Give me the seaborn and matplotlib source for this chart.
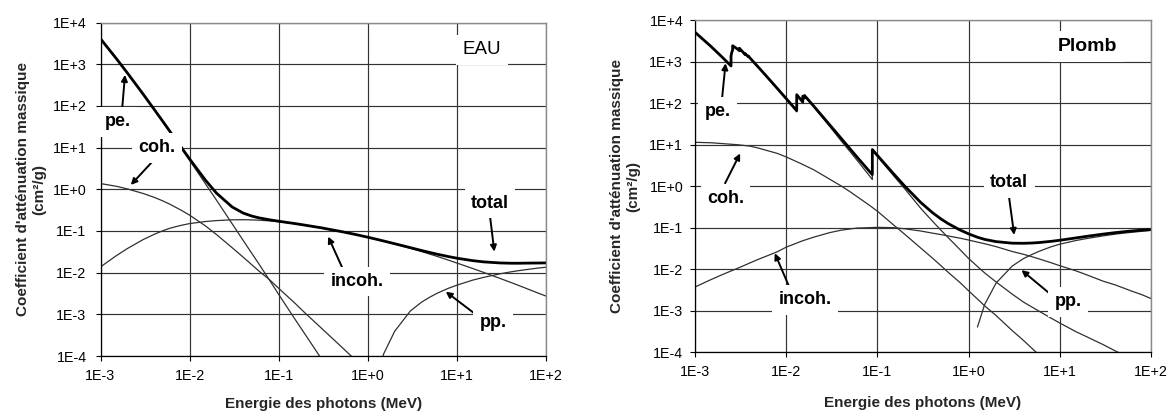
import numpy as np
import pandas as pd
import matplotlib
matplotlib.use("Agg")
import matplotlib.pyplot as plt
import seaborn as sns
from matplotlib.ticker import NullLocator

nan = np.nan

# ---------------- data (MeV, cm2/g) ----------------
energy = [1e-3, 1.5e-3, 2e-3, 3e-3, 4e-3, 5e-3, 6e-3, 8e-3,
          1e-2, 1.5e-2, 2e-2, 3e-2, 4e-2, 5e-2, 6e-2, 8e-2,
          0.1, 0.15, 0.2, 0.3, 0.4, 0.5, 0.6, 0.8,
          1, 1.25, 1.5, 2, 3, 4, 5, 6, 8,
          10, 15, 20, 30, 40, 50, 60, 80, 100]

water_coh = [1.37, 1.18, 1.02, 0.794, 0.640, 0.526, 0.438, 0.316,
             0.239, 0.133, 0.0821, 0.0397, 0.0234, 0.0154, 0.0109, 0.0066,
             0.0042, 0.0019, 0.00105, 0.00047, 0.000265, 0.00017, 0.000118, 6.6e-5,
             nan, nan, nan, nan, nan, nan, nan, nan, nan,
             nan, nan, nan, nan, nan, nan, nan, nan, nan]
water_incoh = [0.0137, 0.0254, 0.0377, 0.0618, 0.0828, 0.101, 0.116, 0.136,
               0.150, 0.168, 0.177, 0.185, 0.186, 0.184, 0.181, 0.174,
               0.166, 0.149, 0.136, 0.118, 0.106, 0.0967, 0.0894, 0.0786,
               0.0707, 0.0632, 0.0574, 0.0489, 0.0385, 0.0321, 0.0277, 0.0245, 0.0200,
               0.0170, 0.0126, 0.0101, 0.00735, 0.00585, 0.00487, 0.00418, 0.00328, 0.00274]
water_pe = [4076, 1374, 617, 192, 81.9, 41.9, 24.1, 9.92,
            4.94, 1.37, 0.551, 0.149, 0.0589, 0.0288, 0.0161, 0.0063,
            0.0030, 0.00080, 0.00032, 8.7e-5, nan, nan, nan, nan,
            nan, nan, nan, nan, nan, nan, nan, nan, nan,
            nan, nan, nan, nan, nan, nan, nan, nan, nan]
water_pp = [nan, nan, nan, nan, nan, nan, nan, nan,
            nan, nan, nan, nan, nan, nan, nan, nan,
            nan, nan, nan, nan, nan, nan, nan, nan,
            nan, 2.0e-5, 1.1e-4, 3.9e-4, 1.2e-3, 1.95e-3, 2.6e-3, 3.2e-3, 4.2e-3,
            5.0e-3, 6.6e-3, 7.7e-3, 9.3e-3, 1.04e-2, 1.12e-2, 1.18e-2, 1.28e-2, 1.35e-2]
water_total = [4078, 1376, 618, 193, 82.6, 42.6, 24.6, 10.4,
               5.33, 1.67, 0.810, 0.376, 0.268, 0.227, 0.206, 0.184,
               0.171, 0.151, 0.137, 0.119, 0.106, 0.0969, 0.0896, 0.0787,
               0.0707, 0.0632, 0.0575, 0.0494, 0.0397, 0.0340, 0.0303, 0.0277, 0.0243,
               0.0222, 0.0194, 0.0181, 0.0171, 0.0168, 0.0168, 0.0169, 0.0170, 0.0171]

lead_coh = [11.5, 11.2, 10.7, 10.0, 9.3, 8.3, 7.4, 6.2,
            5.1, 3.4, 2.5, 1.48, 1.02, 0.74, 0.56, 0.36,
            0.25, 0.117, 0.069, 0.032, 0.0186, 0.0120, 0.0083, 0.0048,
            0.0030, 0.0019, 0.0013, 7.6e-4, 3.3e-4, 1.9e-4, 1.2e-4, 8.3e-5, nan,
            nan, nan, nan, nan, nan, nan, nan, nan, nan]
lead_incoh = [0.0037, 0.0056, 0.0074, 0.0107, 0.0141, 0.0174, 0.0204, 0.0263,
              0.0339, 0.048, 0.059, 0.076, 0.087, 0.093, 0.098, 0.100,
              0.102, 0.100, 0.094, 0.083, 0.074, 0.068, 0.063, 0.056,
              0.0504, 0.0449, 0.0410, 0.0349, 0.0267, 0.0228, 0.0198, 0.0175, 0.0143,
              0.0121, 0.0091, 0.0072, 0.0051, 0.0042, 0.0035, 0.0030, 0.0024, 0.00195]
lead_pp = [nan, nan, nan, nan, nan, nan, nan, nan,
           nan, nan, nan, nan, nan, nan, nan, nan,
           nan, nan, nan, nan, nan, nan, nan, nan,
           nan, 4.0e-4, 1.4e-3, 4.6e-3, 0.0118, 0.0180, 0.0228, 0.0272, 0.0345,
           0.0400, 0.0490, 0.0550, 0.0635, 0.0695, 0.0738, 0.0770, 0.0820, 0.0860]

# lead grid with absorption edges (duplicated energies)
energy_pb = [1e-3, 1.5e-3, 2e-3, 2.484e-3, 2.484e-3, 2.534e-3, 2.586e-3, 2.586e-3,
             3e-3, 3.066e-3, 3.066e-3, 3.3e-3, 3.554e-3, 3.554e-3, 3.7e-3,
             3.851e-3, 3.851e-3, 4e-3, 5e-3, 6e-3, 8e-3, 1e-2,
             1.304e-2, 1.304e-2, 1.5e-2, 1.52e-2, 1.52e-2, 1.586e-2, 1.586e-2,
             2e-2, 3e-2, 4e-2, 5e-2, 6e-2, 8e-2, 8.8e-2, 8.8e-2,
             0.1, 0.15, 0.2, 0.3, 0.4, 0.5, 0.6, 0.8,
             1, 1.25, 1.5, 2, 3, 4, 5, 6, 8,
             10, 15, 20, 30, 40, 50, 60, 80, 100]
lead_total = [5210, 2356, 1285, 800.6, 1397, 1726, 1944, 2458,
              1965, 1857, 2146, 1796, 1496, 1585, 1442,
              1339, 1386, 1251, 730.4, 467.2, 228.7, 130.6,
              67.01, 162.1, 111.6, 108.4, 148.8, 134.4, 155.4,
              86.36, 30.32, 14.36, 8.041, 5.021, 2.419, 1.910, 7.683,
              5.549, 2.014, 0.9985, 0.4031, 0.2323, 0.1614, 0.1248, 0.0887,
              0.0710, 0.0588, 0.0522, 0.0461, 0.0423, 0.0420, 0.0427, 0.0439, 0.0468,
              0.0497, 0.0566, 0.0621, 0.0701, 0.0757, 0.0798, 0.0829, 0.0874, 0.0902]
lead_pe = [5197, 2344, 1274, 790, 1387, 1716, 1934, 2448,
           1955, 1847, 2136, 1787, 1487, 1576, 1433,
           1330, 1377, 1242, 722, 460, 222, 125,
           62.5, 157.5, 107.4, 104, 144.5, 130.2, 151.2,
           82.6, 27.8, 12.5, 6.9, 4.2, 1.9, 1.45, 7.23,
           5.23, 1.81, 0.86, 0.29, 0.145, 0.086, 0.057, 0.030,
           0.0181, 0.0116, 0.0081, 0.0049, 0.0025, 0.0016, 0.0012, 0.00095, 0.00066,
           0.00050, 0.00031, 0.00023, 0.00015, 0.000108, 8.5e-5, nan, nan, nan]

x_ticks = [1e-3, 1e-2, 1e-1, 1e0, 1e1, 1e2]
x_tick_labels = ["1E-3", "1E-2", "1E-1", "1E+0", "1E+1", "1E+2"]
y_ticks = [1e-4, 1e-3, 1e-2, 1e-1, 1e0, 1e1, 1e2, 1e3, 1e4]
y_tick_labels = ["1E-4", "1E-3", "1E-2", "1E-1", "1E+0", "1E+1", "1E+2", "1E+3", "1E+4"]
x_label = "Energie des photons (MeV)"
y_label = "Coefficient d'atténuation massique\n(cm²/g)"


def long_df(pairs):
    frames = []
    for name, e, v in pairs:
        d = pd.DataFrame({"E": e, "mu": v, "process": name}).dropna()
        frames.append(d)
    return pd.concat(frames, ignore_index=True)


water_thin = long_df([("pe.", energy, water_pe), ("coh.", energy, water_coh),
                      ("incoh.", energy, water_incoh), ("pp.", energy, water_pp)])
water_tot = long_df([("total", energy, water_total)])
lead_thin = long_df([("pe.", energy_pb, lead_pe), ("coh.", energy, lead_coh),
                     ("incoh.", energy, lead_incoh), ("pp.", energy, lead_pp)])
lead_tot = long_df([("total", energy_pb, lead_total)])

# ---------------- style ----------------
sns.set_theme(style="white")
plt.rcParams['font.family'] = ['Liberation Sans', 'DejaVu Sans']

fig = plt.figure(figsize=(11.76, 4.17), dpi=100)
axL = fig.add_axes([100.5 / 1176, 1 - 356 / 417, 445.5 / 1176, 333.5 / 417])
axR = fig.add_axes([695 / 1176, 1 - 352 / 417, 456 / 1176, 331.5 / 417])

THIN = "#303030"


def setup(ax, ypad):
    ax.set_xscale("log")
    ax.set_yscale("log")
    ax.set_xlim(1e-3, 1e2)
    ax.set_ylim(1e-4, 1e4)
    ax.set_axisbelow(True)
    ax.grid(True, which="major", color="#333333", lw=0.85)
    ax.set_xticks(x_ticks, labels=x_tick_labels)
    ax.set_yticks(y_ticks, labels=y_tick_labels)
    ax.xaxis.set_minor_locator(NullLocator())
    ax.yaxis.set_minor_locator(NullLocator())
    ax.tick_params(axis="both", which="major", direction="out", length=3.5,
                   width=0.8, color="black", labelsize=10.3, labelcolor="black",
                   bottom=True, left=True)
    ax.tick_params(axis="x", pad=6)
    ax.tick_params(axis="y", pad=ypad)
    for s in ["left", "bottom"]:
        ax.spines[s].set_color("black")
        ax.spines[s].set_linewidth(0.9)
    for s in ["top", "right"]:
        ax.spines[s].set_color("#8a8a8a")
        ax.spines[s].set_linewidth(1.0)


def draw(ax, thin, tot):
    sns.lineplot(data=thin, x="E", y="mu", units="process", estimator=None,
                 color=THIN, lw=0.9, ax=ax, legend=False)
    sns.lineplot(data=tot, x="E", y="mu", estimator=None,
                 color="black", lw=2.0, ax=ax, legend=False)


def label(ax, text, x, y, size=13, weight="bold", pad=0.35):
    ax.text(x, y, text, transform=ax.transAxes, ha="center", va="center",
            fontsize=size, fontweight=weight, color="black", zorder=20,
            clip_on=False,
            bbox=dict(boxstyle=f"square,pad={pad}", fc="white", ec="none"))


def arrow(ax, tail, tip):
    ax.annotate("", xy=tip, xytext=tail, xycoords="axes fraction",
                textcoords="axes fraction", zorder=15,
                arrowprops=dict(arrowstyle="-|>", color="black", lw=1.4,
                                mutation_scale=9, shrinkA=0, shrinkB=0))


for ax, ypad in [(axL, 6.5), (axR, 5)]:
    setup(ax, ypad)

draw(axL, water_thin, water_tot)
draw(axR, lead_thin, lead_tot)

for ax in (axL, axR):
    ax.set_xlabel(x_label, fontsize=11, fontweight="bold")
    ax.set_ylabel(y_label, fontsize=11, fontweight="bold", linespacing=1.15)
axL.xaxis.set_label_coords(0.5, -0.123)
axR.xaxis.set_label_coords(0.5, -0.133)
axL.yaxis.set_label_coords(-0.122, 0.5)
axR.yaxis.set_label_coords(-0.121, 0.5)

# water annotations
label(axL, "pe.", 0.039, 0.702)
arrow(axL, (0.048, 0.732), (0.055, 0.843))
label(axL, "coh.", 0.127, 0.624)
arrow(axL, (0.120, 0.588), (0.068, 0.513))
label(axL, "incoh.", 0.576, 0.223)
arrow(axL, (0.545, 0.258), (0.511, 0.358))
label(axL, "total", 0.874, 0.458)
arrow(axL, (0.874, 0.423), (0.884, 0.313))
label(axL, "pp.", 0.881, 0.099)
arrow(axL, (0.844, 0.123), (0.775, 0.193))
label(axL, "EAU", 0.856, 0.918, size=13.5, weight="normal")

# lead annotations
label(axR, "pe.", 0.050, 0.724)
arrow(axR, (0.059, 0.760), (0.067, 0.871))
label(axR, "coh.", 0.067, 0.462)
arrow(axR, (0.066, 0.509), (0.099, 0.599))
label(axR, "incoh.", 0.241, 0.157)
arrow(axR, (0.208, 0.192), (0.175, 0.298))
label(axR, "total", 0.689, 0.510)
arrow(axR, (0.689, 0.464), (0.700, 0.353))
label(axR, "pp.", 0.818, 0.151)
arrow(axR, (0.779, 0.175), (0.716, 0.247))
label(axR, "Plomb", 0.860, 0.921, size=14)

fig.savefig("out.png", dpi=100, facecolor="white")
